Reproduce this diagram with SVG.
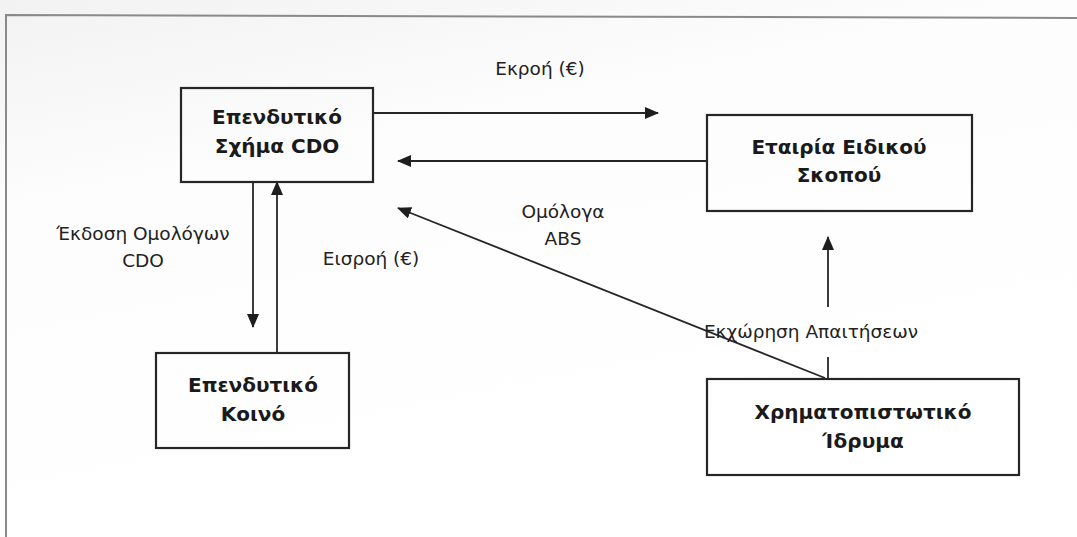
<svg xmlns="http://www.w3.org/2000/svg" width="1077" height="537" viewBox="0 0 1077 537">
  <defs>
    <linearGradient id="bg" x1="0" y1="0" x2="0.4" y2="1">
      <stop offset="0" stop-color="#f2f2f2"/>
      <stop offset="0.35" stop-color="#fdfdfd"/>
      <stop offset="1" stop-color="#ffffff"/>
    </linearGradient>
    <marker id="ah" viewBox="0 0 14 12" refX="13" refY="6" markerWidth="14" markerHeight="12" markerUnits="userSpaceOnUse" orient="auto">
      <path d="M0,0 L14,6 L0,12 Z" fill="#1e1e1e"/>
    </marker>
    <style>
      .box { fill: none; stroke: #262626; stroke-width: 2.2; }
      .bt { font-family: "DejaVu Sans", Verdana, sans-serif; font-weight: bold; font-size: 20px; fill: #1a1a1a; text-anchor: middle; }
      .lt { font-family: "DejaVu Sans", Verdana, sans-serif; font-size: 18.5px; fill: #222222; text-anchor: middle; }
      .c { fill: none; stroke: #262626; stroke-width: 1.8; }
    </style>
  </defs>
  <rect x="0" y="0" width="1077" height="537" fill="url(#bg)"/>
  <g id="frame">
    <polyline points="6,537 6,15 1077,18" fill="none" stroke="#8a8a8a" stroke-width="2"/>
  </g>

  <g id="node-cdo">
    <rect class="box" x="181" y="88" width="192" height="94"/>
    <text class="bt" x="277" y="124">Επενδυτικό</text>
    <text class="bt" x="277" y="153">Σχήμα CDO</text>
  </g>
  <g id="node-spv">
    <rect class="box" x="707" y="115" width="265" height="96"/>
    <text class="bt" x="839" y="154">Εταιρία Ειδικού</text>
    <text class="bt" x="839" y="182">Σκοπού</text>
  </g>
  <g id="node-investors">
    <rect class="box" x="156" y="353" width="193" height="95"/>
    <text class="bt" x="253" y="392">Επενδυτικό</text>
    <text class="bt" x="253" y="421">Κοινό</text>
  </g>
  <g id="node-bank">
    <rect class="box" x="707" y="379" width="312" height="96"/>
    <text class="bt" x="863" y="419">Χρηματοπιστωτικό</text>
    <text class="bt" x="863" y="448">Ίδρυμα</text>
  </g>

  <g id="connectors">
    <line class="c" x1="373" y1="113" x2="658" y2="113" marker-end="url(#ah)"/>
    <line class="c" x1="707" y1="161" x2="398" y2="161" marker-end="url(#ah)"/>
    <line class="c" x1="253" y1="182" x2="253" y2="327" marker-end="url(#ah)"/>
    <line class="c" x1="277" y1="353" x2="277" y2="182" marker-end="url(#ah)"/>
    <line class="c" x1="825" y1="378" x2="398" y2="208" marker-end="url(#ah)"/>
    <line class="c" x1="828" y1="379" x2="828" y2="357"/>
    <line class="c" x1="828" y1="307" x2="828" y2="237" marker-end="url(#ah)"/>
  </g>

  <g id="labels">
    <text class="lt" x="540" y="75">Εκροή (€)</text>
    <text class="lt" x="143" y="240">Έκδοση Ομολόγων</text>
    <text class="lt" x="143" y="267">CDO</text>
    <text class="lt" x="371" y="265">Εισροή (€)</text>
    <text class="lt" x="563" y="218">Ομόλογα</text>
    <text class="lt" x="563" y="245">ABS</text>
    <text class="lt" x="811" y="338">Εκχώρηση Απαιτήσεων</text>
  </g>
</svg>
